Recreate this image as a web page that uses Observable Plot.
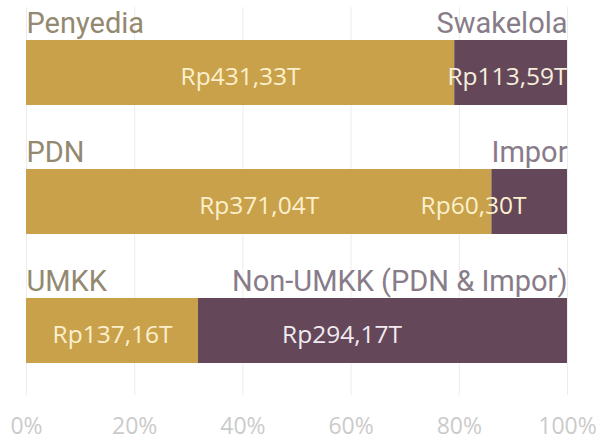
<!DOCTYPE html>
<html><head><meta charset="utf-8">
<script src="https://cdn.jsdelivr.net/npm/d3@7"></script>
<script src="https://cdn.jsdelivr.net/npm/@observablehq/plot@0.6"></script>
<style>html,body{margin:0;padding:0;background:#fff}svg{display:block}</style>
</head><body><div id="chart"></div>
<script>
const barGroups = ["Penyedia/Swakelola", "PDN/Impor", "UMKK/Non-UMKK"];
const leftNames = ["Penyedia", "PDN", "UMKK"];
const rightNames = ["Swakelola", "Impor", "Non-UMKK (PDN & Impor)"];
const leftValues = [431.33, 371.04, 137.16];
const rightValues = [113.59, 60.30, 294.17];
const xTicks = [0, 0.2, 0.4, 0.6, 0.8, 1];

const GOLD = "#C9A14B", PURPLE = "#644759";
const fmt = v => "Rp" + v.toFixed(2).replace(".", ",") + "T";

const leftRows = barGroups.map((g, i) => {
  const total = leftValues[i] + rightValues[i];
  return {group: g, name: leftNames[i], value: leftValues[i], x1: 0, x2: leftValues[i] / total};
});
const rightRows = barGroups.map((g, i) => {
  const total = leftValues[i] + rightValues[i];
  return {group: g, name: rightNames[i], value: rightValues[i], x1: leftValues[i] / total, x2: 1};
});
const mid = d => (d.x1 + d.x2) / 2;
const valFont = {fontFamily: "Open Sans", fontSize: 24.5, dy: 4};
const catFont = {fontFamily: "Roboto", fontSize: 29, dy: -49};

const chart = Plot.plot({
  width: 603,
  height: 440,
  marginLeft: 26,
  marginRight: 36,
  marginTop: 7,
  marginBottom: 45,
  style: {background: "#fff", color: "#cbcbcb"},
  x: {domain: [0, 1]},
  y: {type: "band", domain: barGroups, paddingInner: 0.5, paddingOuter: 0.25, axis: null},
  marks: [
    Plot.gridX(xTicks, {stroke: "#ececec", strokeOpacity: 1}),
    Plot.barX(leftRows, {x1: "x1", x2: "x2", y: "group", fill: GOLD}),
    Plot.barX(rightRows, {x1: "x1", x2: "x2", y: "group", fill: PURPLE}),
    Plot.text(leftRows, {x: mid, y: "group", text: d => fmt(d.value), fill: "#FBF0CB", ...valFont}),
    Plot.text([rightRows[0]], {x: "x2", y: "group", text: d => fmt(d.value), textAnchor: "end", fill: "#F6EEDD", ...valFont}),
    Plot.text([rightRows[1]], {x: "x2", y: "group", text: d => fmt(d.value), textAnchor: "end", dx: -41, fill: "#FBF0CB", ...valFont}),
    Plot.text([rightRows[2]], {x: mid, y: "group", text: d => fmt(d.value), dx: -41, fill: "#F1EAF0", ...valFont}),
    Plot.text(leftRows, {x: 0, y: "group", text: "name", textAnchor: "start", fill: "#938970", ...catFont}),
    Plot.text(rightRows, {x: 1, y: "group", text: "name", textAnchor: "end", fill: "#877C88", ...catFont}),
    Plot.axisX({ticks: xTicks, tickFormat: d3.format(".0%"), tickSize: 0, tickPadding: 22, fontSize: 23, fontFamily: "Open Sans", label: null})
  ]
});
document.getElementById("chart").appendChild(chart);
</script>
</body></html>
